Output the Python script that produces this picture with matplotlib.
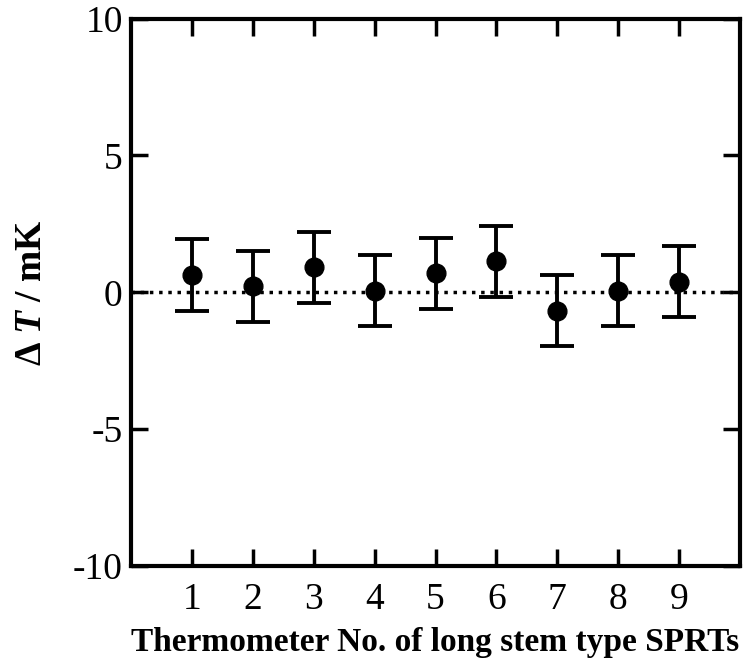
import matplotlib
matplotlib.use("Agg")
import matplotlib.pyplot as plt

# data
thermometer_no = [1, 2, 3, 4, 5, 6, 7, 8, 9]
delta_t = [0.63, 0.22, 0.91, 0.05, 0.69, 1.14, -0.68, 0.06, 0.39]
delta_t_err = [1.3, 1.3, 1.3, 1.3, 1.3, 1.3, 1.3, 1.3, 1.3]
y_ticks = [-10, -5, 0, 5, 10]

plt.rcParams["font.family"] = ["Liberation Serif", "DejaVu Serif"]
plt.rcParams["axes.unicode_minus"] = False
plt.rcParams["mathtext.fontset"] = "custom"
plt.rcParams["mathtext.rm"] = "Liberation Serif"
plt.rcParams["mathtext.it"] = "Liberation Serif:italic"
plt.rcParams["mathtext.bf"] = "Liberation Serif:bold"
plt.rcParams["mathtext.bfit"] = "Liberation Serif:bold:italic"

fig = plt.figure(figsize=(7.49, 6.68), dpi=100)
ax = fig.add_axes([0.175, 0.153, 0.813, 0.819])

# zero reference line
ax.axhline(0, color="black", linestyle=":", linewidth=2.5, zorder=1)

ax.errorbar(thermometer_no, delta_t, yerr=delta_t_err, fmt="o", color="black",
            markersize=13.5, elinewidth=2.8, capsize=12, capthick=2.8, zorder=3)

ax.set_xlim(0, 10)
ax.set_ylim(-10, 10)
ax.set_xticks(thermometer_no)
ax.set_yticks(y_ticks)

for side in ["left", "right", "top", "bottom"]:
    ax.spines[side].set_linewidth(3)

ax.tick_params(direction="in", length=12, width=2.5, top=True, right=True,
               labelsize=27)
ax.tick_params(axis="x", pad=12)
ax.tick_params(axis="y", pad=6)

ax.set_xlabel("Thermometer No. of long stem type SPRTs", fontsize=24,
              fontweight="bold", labelpad=7)
ax.set_ylabel(r"$\mathbf{\Delta}\ \mathbfit{T}$ / mK", fontsize=27,
              fontweight="bold", labelpad=17)

fig.savefig("out.png", dpi=100)
